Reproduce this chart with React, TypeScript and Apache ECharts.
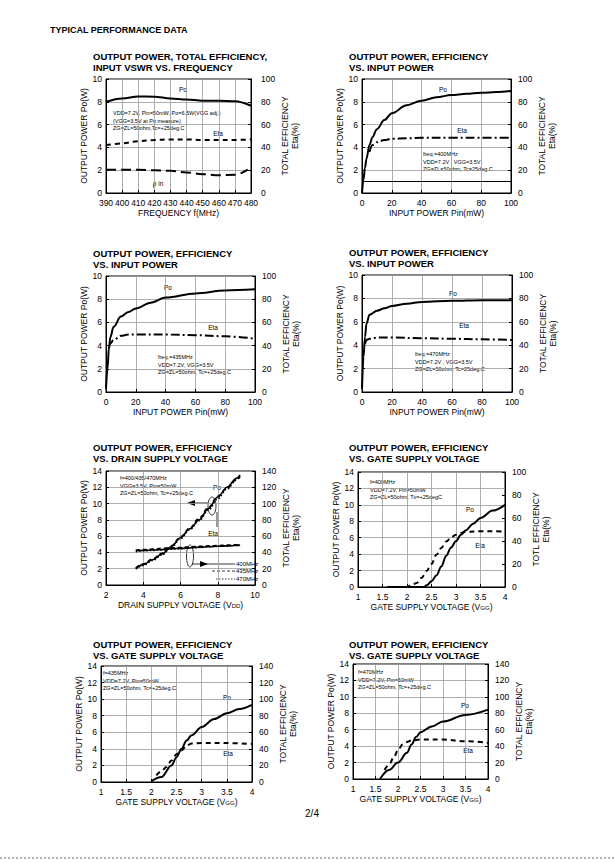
import React, { useEffect, useRef } from "react";
import * as echarts from "echarts";

const FONT = "'Liberation Sans', Arial, Helvetica, sans-serif";

// ---- Chart 1: vs frequency ----
const freqMHz = [390, 400, 410, 420, 430, 440, 450, 460, 470, 480];
const freqPo = [8.0, 8.3, 8.47, 8.45, 8.3, 8.2, 8.1, 8.1, 8.05, 7.65];
const freqEta = [42, 43.5, 45.5, 46.5, 47, 47, 46.5, 46.5, 46.5, 47];
const freqVswrX = [390, 400, 410, 420, 430, 440, 450, 460, 470, 478];
const freqVswr = [2.05, 2.05, 2.05, 2.0, 1.95, 1.8, 1.65, 1.55, 1.6, 2.05];

// ---- Chart 2: vs Pin @400MHz ----
const pin400X = [0, 1, 2, 3, 5, 7, 10, 15, 20, 30, 40, 50, 60, 70, 80, 90, 100];
const pin400Po = [0, 1.2, 2.2, 3.0, 4.2, 4.9, 5.6, 6.4, 7.0, 7.7, 8.1, 8.4, 8.6, 8.7, 8.8, 8.85, 8.95];
const pin400EtaX = [5, 7, 10, 15, 20, 30, 40, 60, 80, 100];
const pin400Eta = [36, 42, 44.5, 46.5, 47.5, 48, 48.5, 48.5, 48.5, 48.5];
const pin400RefLine = [1];

// ---- Chart 3: vs Pin @435MHz ----
const pin435X = [0, 1, 2, 3, 5, 10, 15, 20, 30, 40, 60, 80, 100];
const pin435Po = [0.3, 2.0, 3.9, 4.75, 5.6, 6.5, 6.9, 7.2, 7.7, 8.15, 8.5, 8.75, 8.85];
const pin435EtaX = [2, 3, 5, 10, 15, 20, 40, 60, 80, 100];
const pin435Eta = [38, 42, 44.7, 48.5, 49.5, 49.5, 49.5, 49, 48, 46];

// ---- Chart 4: vs Pin @470MHz ----
const pin470X = [0, 1, 2, 3, 5, 10, 15, 20, 30, 40, 60, 80, 100];
const pin470Po = [0.3, 3.0, 4.7, 5.85, 6.6, 6.95, 7.15, 7.35, 7.55, 7.7, 7.8, 7.85, 7.85];
const pin470EtaX = [2, 3, 5, 10, 20, 40, 60, 80, 100];
const pin470Eta = [41, 44.5, 45.5, 46.5, 46.5, 46, 45.5, 45, 44.5];

// ---- Chart 5: vs VDD ----
const vddX = [3.6, 4, 4.5, 5, 5.5, 6, 6.5, 7, 7.5, 8, 8.5, 9, 9.2];
const vddPo400 = [2.0, 2.5, 3.1, 3.8, 4.7, 5.8, 6.9, 8.0, 9.4, 10.8, 12.0, 13.1, 13.5];
const vddPo435 = [2.1, 2.6, 3.2, 3.9, 4.8, 5.9, 7.0, 8.2, 9.5, 10.9, 11.9, 12.9, 13.3];
const vddPo470 = [2.0, 2.4, 3.0, 3.7, 4.6, 5.7, 6.8, 7.9, 9.2, 10.6, 11.8, 12.9, 13.4];
const vddEta400 = [42, 42.5, 43, 43.5, 44.5, 45, 45.5, 46.5, 47, 47.5, 48, 48.5, 49];
const vddEta435 = [43, 43.5, 44, 45, 45.5, 46, 47, 47.5, 48, 48.5, 49, 49.5, 50];
const vddEta470 = [41, 42, 42.5, 43, 44, 44.5, 45.5, 46, 47, 47.5, 48, 49, 49.5];

// ---- Chart 6: vs VGG @400MHz ----
const vgg400PoX = [1.6, 1.8, 2.0, 2.2, 2.35, 2.4, 2.5, 2.6, 2.7, 2.8, 2.9, 3.0, 3.1, 3.2, 3.35, 3.5, 3.75, 4.0];
const vgg400Po = [0, 0, 0, 0, 0, 0.2, 0.7, 1.4, 2.5, 3.8, 4.8, 5.6, 6.35, 6.9, 7.7, 8.4, 9.3, 10.0];
const vgg400EtaX = [1.6, 1.8, 2.0, 2.1, 2.2, 2.3, 2.4, 2.5, 2.6, 2.7, 2.8, 2.9, 3.0, 3.2, 3.5, 3.75, 4.0];
const vgg400Eta = [0, 0, 0, 2, 3.5, 8, 14, 20, 28, 34, 39.5, 43, 45.5, 48, 48.5, 48.5, 48];

// ---- Chart 7: vs VGG @435MHz ----
const vgg435PoX = [2.0, 2.2, 2.4, 2.5, 2.6, 2.7, 2.8, 3.0, 3.25, 3.5, 3.75, 4.0];
const vgg435Po = [0.1, 0.6, 2.0, 3.0, 4.0, 5.0, 5.65, 6.65, 7.6, 8.3, 8.8, 9.3];
const vgg435EtaX = [2.1, 2.2, 2.3, 2.4, 2.5, 2.6, 2.7, 2.8, 3.0, 3.5, 4.0];
const vgg435Eta = [8, 13, 18, 26, 33.5, 38, 44, 46.5, 47, 47, 46];

// ---- Chart 8: vs VGG @470MHz ----
const vgg470PoX = [1.6, 1.8, 2.0, 2.2, 2.3, 2.4, 2.5, 2.75, 3.0, 3.5, 4.0];
const vgg470Po = [0, 1.1, 2.0, 3.2, 4.2, 5.1, 5.7, 6.4, 7.0, 7.8, 8.45];
const vgg470EtaX = [1.7, 1.8, 1.9, 2.0, 2.1, 2.2, 2.3, 2.5, 3.0, 3.5, 4.0];
const vgg470Eta = [11, 17.5, 25.5, 35, 42, 45, 47, 48, 48, 46, 44];

const legendFreqs = ["400MHz", "435MHz", "470MHz"];

const zip = (xs: number[], ys: number[]) => xs.map((x, i) => [x, ys[i]]);

const SOLID = "solid";
const DASH = [5, 4];
const LONGDASH = [10, 5];
const DASHDOT = [9, 3, 2, 3];
const DOT = [1.5, 2];

const subRich = { s: { fontSize: 6, fontFamily: FONT, color: "#000", padding: [3, 0, 0, 0] } };

const panels = [
  { left: 106, top: 79, width: 145, height: 114, xMin: 390, xMax: 480, xInt: 10, xName: "FREQUENCY f(MHz)", yMax: 10, yInt: 2, rMax: 100, rInt: 20, rName: "TOTAL EFFICIENCY\nEta(%)", rMargin: 10 },
  { left: 362, top: 79, width: 149, height: 114, xMin: 0, xMax: 100, xInt: 20, xName: "INPUT POWER Pin(mW)", yMax: 10, yInt: 2, rMax: 100, rInt: 20, rName: "TOTAL EFFICIENCY\nEta(%)", rMargin: 7 },
  { left: 106, top: 276, width: 149, height: 116, xMin: 0, xMax: 100, xInt: 20, xName: "INPUT POWER Pin(mW)", yMax: 10, yInt: 2, rMax: 100, rInt: 20, rName: "TOTAL EFFICIENCY\nEta(%)", rMargin: 7 },
  { left: 362, top: 275, width: 150, height: 117, xMin: 0, xMax: 100, xInt: 20, xName: "INPUT POWER Pin(mW)", yMax: 10, yInt: 2, rMax: 100, rInt: 20, rName: "TOTAL EFFICIENCY\nEta(%)", rMargin: 7 },
  { left: 106, top: 471, width: 149, height: 114, xMin: 2, xMax: 10, xInt: 2, xName: "DRAIN SUPPLY VOLTAGE (V{s|DD})", yMax: 14, yInt: 2, rMax: 140, rInt: 20, rName: "TOTAL EFFICIENCY\nEta(%)", rMargin: 7 },
  { left: 358, top: 472, width: 147, height: 115, xMin: 1, xMax: 4, xInt: 0.5, xName: "GATE SUPPLY VOLTAGE (V{s|GG})", yMax: 14, yInt: 2, rMax: 100, rInt: 20, rName: "TOTL EFFICIENCY\nEta(%)", rMargin: 7 },
  { left: 101, top: 666, width: 151, height: 116, xMin: 1, xMax: 4, xInt: 0.5, xName: "GATE SUPPLY VOLTAGE (V{s|GG})", yMax: 14, yInt: 2, rMax: 140, rInt: 20, rName: "TOTAL EFFICIENCY\nEta(%)", rMargin: 7 },
  { left: 353, top: 664, width: 135, height: 115, xMin: 1, xMax: 4, xInt: 0.5, xName: "GATE SUPPLY VOLTAGE (V{s|GG})", yMax: 14, yInt: 2, rMax: 140, rInt: 20, rName: "TOTAL EFFICIENCY\nEta(%)", rMargin: 7 },
];

const titles = [
  { x: 93, y: 56, l1: "OUTPUT POWER, TOTAL EFFICIENCY,", l2: "INPUT VSWR VS. FREQUENCY" },
  { x: 349, y: 56, l1: "OUTPUT POWER, EFFICIENCY", l2: "VS. INPUT POWER" },
  { x: 93, y: 253, l1: "OUTPUT POWER, EFFICIENCY", l2: "VS. INPUT POWER" },
  { x: 349, y: 252, l1: "OUTPUT POWER, EFFICIENCY", l2: "VS. INPUT POWER" },
  { x: 93, y: 447, l1: "OUTPUT POWER, EFFICIENCY", l2: "VS. DRAIN SUPPLY VOLTAGE" },
  { x: 349, y: 447, l1: "OUTPUT POWER, EFFICIENCY", l2: "VS. GATE SUPPLY VOLTAGE" },
  { x: 93, y: 644, l1: "OUTPUT POWER, EFFICIENCY", l2: "VS. GATE SUPPLY VOLTAGE" },
  { x: 349, y: 644, l1: "OUTPUT POWER, EFFICIENCY", l2: "VS. GATE SUPPLY VOLTAGE" },
];

const notes = [
  { x: 113, y: 113, lines: ["VDD=7.2V, Pin=50mW, Po=6.5W(VGG adj.)", "(VGG=3.5V at Po measure)", "ZG=ZL=50ohm,Tc=+25deg.C"] },
  { x: 423, y: 154, lines: ["freq.=400MHz", "VDD=7.2V , VGG=3.5V", "ZG=ZL=50ohm, Tc=25deg.C"] },
  { x: 158, y: 357, lines: ["freq.=435MHz", "VDD=7.2V, VGG=3.5V", "ZG=ZL=50ohm, Tc=+25deg.C"] },
  { x: 415, y: 354, lines: ["freq.=470MHz", "VDD=7.2V , VGG=3.5V", "ZG=ZL=50ohm, Tc=25deg.C"] },
  { x: 120, y: 478, lines: ["f=400/435/470MHz", "VGG=3.5V, Pin=50mW", "ZG=ZL=50ohm, Tc=+25deg.C"] },
  { x: 370, y: 482, lines: ["f=400MHz", "VDD=7.2V, Pin=50mW", "ZG=ZL=50ohm, Tv=+25degC"] },
  { x: 103, y: 673, lines: ["f=435MHz", "VDD=7.2V, Pin=50mW", "ZG=ZL=50ohm, Tc=+25deg.C"] },
  { x: 358, y: 672, lines: ["f=470MHz", "VDD=7.2V, Pin=50mW", "ZG=ZL=50ohm, Tc=+25deg.C"] },
];

const curveLabels = [
  { x: 183, y: 89, t: "Po" }, { x: 218, y: 133, t: "Eta" }, { x: 158, y: 183, t: "ρ in" },
  { x: 443, y: 89, t: "Po" }, { x: 462, y: 130, t: "Eta" },
  { x: 168, y: 287, t: "Po" }, { x: 213, y: 327, t: "Eta" },
  { x: 453, y: 293, t: "Po" }, { x: 464, y: 325, t: "Eta" },
  { x: 217, y: 487, t: "Po" }, { x: 213, y: 533, t: "Eta" },
  { x: 470, y: 509, t: "Po" }, { x: 480, y: 545, t: "Eta" },
  { x: 227, y: 697, t: "Po" }, { x: 228, y: 753, t: "Eta" },
  { x: 465, y: 705, t: "Po" }, { x: 468, y: 750, t: "Eta" },
];

function text(x: number, y: number, t: string, size: number, bold = false, align = "left") {
  return {
    type: "text",
    x,
    y,
    silent: true,
    style: {
      text: t,
      fill: "#000",
      font: `${bold ? "bold " : ""}${size}px ${FONT}`,
      textAlign: align,
      textVerticalAlign: "middle",
    },
  };
}

function line(x1: number, y1: number, x2: number, y2: number, dash: any = null, w = 1) {
  return {
    type: "line",
    silent: true,
    shape: { x1, y1, x2, y2 },
    style: { stroke: "#000", lineWidth: w, lineDash: dash },
  };
}

function series(panel: number, right: boolean, xs: number[], ys: number[], dash: any, width = 2, smooth: number = 0.35) {
  return {
    type: "line",
    xAxisIndex: panel,
    yAxisIndex: panel * 2 + (right ? 1 : 0),
    data: zip(xs, ys),
    symbol: "none",
    showSymbol: false,
    smooth,
    smoothMonotone: "x",
    silent: true,
    lineStyle: { color: "#000", width, type: dash },
  };
}

function buildOption() {
  const axisFont = { fontSize: 8.5, color: "#000", fontFamily: FONT };
  const grid = panels.map((p) => ({
    left: p.left, top: p.top, width: p.width, height: p.height,
    show: true, borderColor: "#000", borderWidth: 1, containLabel: false,
  }));
  const xAxis = panels.map((p, i) => ({
    gridIndex: i, type: "value", min: p.xMin, max: p.xMax, interval: p.xInt,
    axisLine: { show: true, onZero: false, lineStyle: { color: "#000", width: 1 } },
    axisTick: { show: true, inside: true, length: 3, lineStyle: { color: "#000" } },
    axisLabel: { ...axisFont, margin: 5 },
    splitLine: { show: true, lineStyle: { color: "#9a9a9a", width: 0.8 } },
    name: p.xName, nameLocation: "middle", nameGap: 15,
    nameTextStyle: { fontSize: 8.5, color: "#000", fontFamily: FONT, rich: subRich },
  }));
  const yAxis: any[] = [];
  panels.forEach((p, i) => {
    yAxis.push({
      gridIndex: i, type: "value", position: "left", min: 0, max: p.yMax, interval: p.yInt,
      axisLine: { show: true, onZero: false, lineStyle: { color: "#000", width: 1 } },
      axisTick: { show: true, inside: true, length: 3, lineStyle: { color: "#000" } },
      axisLabel: { ...axisFont, margin: 4 },
      splitLine: { show: true, lineStyle: { color: "#9a9a9a", width: 0.8 } },
      name: "OUTPUT POWER Po(W)", nameLocation: "middle", nameGap: 18, nameRotate: 90,
      nameTextStyle: { fontSize: 8.5, color: "#000", fontFamily: FONT },
    });
    yAxis.push({
      gridIndex: i, type: "value", position: "right", min: 0, max: p.rMax, interval: p.rInt,
      axisLine: { show: true, onZero: false, lineStyle: { color: "#000", width: 1 } },
      axisTick: { show: true, inside: true, length: 3, lineStyle: { color: "#000" } },
      axisLabel: { ...axisFont, margin: p.rMargin },
      splitLine: { show: false },
      name: p.rName, nameLocation: "middle", nameGap: 26 + (p.rMargin - 7), nameRotate: 90,
      nameTextStyle: { fontSize: 8.5, color: "#000", fontFamily: FONT, lineHeight: 10 },
    });
  });

  const pin400PoSeries: any = series(1, false, pin400X, pin400Po, SOLID);
  pin400PoSeries.markLine = {
    silent: true,
    symbol: "none",
    label: { show: false },
    lineStyle: { color: "#000", width: 1, type: "solid" },
    data: pin400RefLine.map((v) => ({ yAxis: v })),
  };

  const s: any[] = [
    series(0, false, freqMHz, freqPo, SOLID),
    series(0, true, freqMHz, freqEta, DASH),
    series(0, false, freqVswrX, freqVswr, LONGDASH),
    pin400PoSeries,
    series(1, true, pin400EtaX, pin400Eta, DASHDOT),
    series(2, false, pin435X, pin435Po, SOLID),
    series(2, true, pin435EtaX, pin435Eta, DASHDOT),
    series(3, false, pin470X, pin470Po, SOLID),
    series(3, true, pin470EtaX, pin470Eta, DASHDOT),
    series(4, false, vddX, vddPo400, SOLID, 1.6),
    series(4, false, vddX, vddPo435, [4, 3], 1.6),
    series(4, false, vddX, vddPo470, DOT, 1.6),
    series(4, true, vddX, vddEta400, SOLID, 1.6),
    series(4, true, vddX, vddEta435, [4, 3], 1.6),
    series(4, true, vddX, vddEta470, DOT, 1.6),
    series(5, false, vgg400PoX, vgg400Po, SOLID),
    series(5, true, vgg400EtaX, vgg400Eta, DASH),
    series(6, false, vgg435PoX, vgg435Po, SOLID),
    series(6, true, vgg435EtaX, vgg435Eta, DASH),
    series(7, false, vgg470PoX, vgg470Po, SOLID),
    series(7, true, vgg470EtaX, vgg470Eta, DASH),
  ];

  const g: any[] = [];
  g.push(text(50, 30, "TYPICAL PERFORMANCE DATA", 9, true));
  titles.forEach((t) => {
    g.push(text(t.x, t.y, t.l1, 9.5, true));
    g.push(text(t.x, t.y + 11.5, t.l2, 9.5, true));
  });
  notes.forEach((n) => {
    n.lines.forEach((ln, k) => g.push(text(n.x, n.y + k * 7.5, ln, 5.5)));
  });
  curveLabels.forEach((c) => g.push(text(c.x, c.y, c.t, 6.5, false, "center")));

  // Drain-voltage chart: loops, arrows and line-style key
  g.push({ type: "ellipse", silent: true, shape: { cx: 212, cy: 506, rx: 4, ry: 9 }, style: { fill: "none", stroke: "#000", lineWidth: 0.8 } });
  g.push(line(208, 503, 192, 503, null, 0.8));
  g.push({ type: "polygon", silent: true, shape: { points: [[187, 503], [195, 500], [195, 506]] }, style: { fill: "#000" } });
  g.push(line(217, 512, 217, 527, null, 0.8));
  g.push({ type: "ellipse", silent: true, shape: { cx: 190, cy: 556, rx: 3.5, ry: 11 }, style: { fill: "none", stroke: "#000", lineWidth: 0.8 } });
  g.push(line(192, 564, 235, 564, null, 0.8));
  g.push({ type: "polygon", silent: true, shape: { points: [[208, 564], [200, 561], [200, 567]] }, style: { fill: "#000" } });
  g.push(line(212, 571, 235, 571, [3, 2], 0.8));
  g.push(line(216, 579, 235, 579, [1.5, 1.5], 0.8));
  legendFreqs.forEach((f, k) => g.push(text(236, [564, 571, 579][k], f, 6)));

  g.push(text(312, 813, "2/4", 10, false, "center"));
  g.push(line(0, 858, 614, 858, [2, 2], 0.6));

  return {
    animation: false,
    backgroundColor: "#fff",
    grid,
    xAxis,
    yAxis,
    series: s,
    graphic: g,
  };
}

export default function App() {
  const ref = useRef<HTMLDivElement>(null);
  useEffect(() => {
    if (!ref.current) return;
    const chart = echarts.init(ref.current, null, { renderer: "svg" });
    chart.setOption(buildOption() as any);
    return () => chart.dispose();
  }, []);
  return (
    <div
      ref={ref}
      style={{ position: "absolute", left: 0, top: 0, width: 614, height: 862, background: "#fff" }}
    />
  );
}
